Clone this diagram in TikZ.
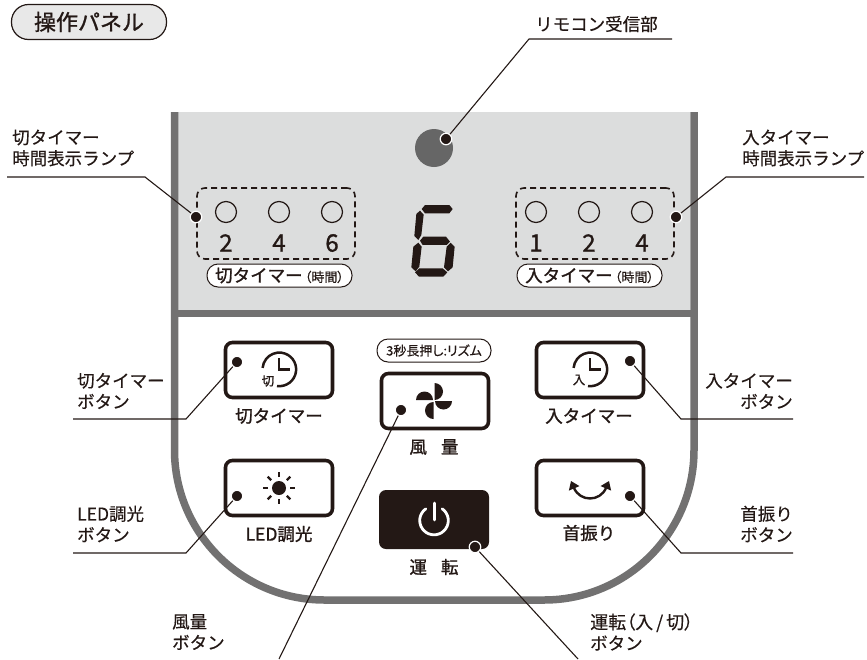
\documentclass[tikz,border=0pt]{standalone}
\usepackage{fontspec}
\setmainfont[FakeBold=0.3]{Noto Sans CJK JP}
\newfontfamily\heavyfont[FakeBold=1.2]{Noto Sans CJK JP}
\newfontfamily\tightfont[RawFeature=+palt,FakeBold=0.3]{Noto Sans CJK JP}
\usetikzlibrary{arrows.meta}
\definecolor{ink}{HTML}{231815}
\definecolor{frame}{HTML}{727171}
\definecolor{lamp}{HTML}{DCDDDD}
\definecolor{sensor}{HTML}{666666}
\newcommand{\lblfont}{\fontsize{17.5}{21}\selectfont}
\newcommand{\btnfont}{\heavyfont\fontsize{17.5}{20}\selectfont}
\begin{document}
\begin{tikzpicture}[x=1pt,y=-1pt,text=ink,
	button node/.style={rectangle,draw=ink,line width=3.6pt,rounded corners=7pt,minimum width=107pt,minimum height=55pt,inner sep=0pt},
	dot node/.style={circle,fill=ink,draw=white,line width=1.2pt,minimum size=11.5pt,inner sep=0pt},
	led node/.style={circle,draw=ink,line width=1.2pt,minimum size=21pt,inner sep=0pt,node distance=53pt},
	digit node/.style={inner sep=0pt,font=\heavyfont\fontsize{24}{24}\selectfont,node distance=31pt},
	caption node/.style={rectangle,draw=ink,fill=white,line width=1pt,rounded corners=11pt,minimum width=145pt,minimum height=23pt,inner sep=0pt},
	dash box/.style={rectangle,draw=ink,dashed,dash pattern=on 6pt off 4pt,line width=1.6pt,rounded corners=8pt,minimum width=158pt,minimum height=71pt},
	label node/.style={inner sep=0pt,anchor=west,align=left,font=\lblfont},
	right label/.style={inner sep=0pt,anchor=east,align=right,font=\lblfont},
	btn label/.style={inner sep=0pt,font=\btnfont},
	leader/.style={draw=ink,line width=1.1pt},
	panel line/.style={draw=frame,line width=7.5pt}]
	\useasboundingbox (0,0) rectangle (867,659);
	
	% panel
	\fill[lamp] (178,112) rectangle (690,310);
	\draw[panel line,rounded corners=150pt] (174.5,112) -- (174.5,600) -- (694,600) -- (694,112);
	\draw[panel line] (171,313.5) -- (698,313.5);
	
	% title
	\node[rectangle,draw=ink,fill=black!9,line width=1.2pt,rounded corners=17pt,minimum width=155pt,minimum height=35pt,inner sep=0pt,font=\heavyfont\fontsize{22}{22}\selectfont] (title) at (89,22) {操作パネル};
	
	% sensor
	\node[circle,fill=sensor,minimum size=38pt,inner sep=0pt] (sensor) at (434,148) {};
	
	% off timer lamps
	\node[dash box] (offbox) at (276,223.5) {};
	\node[led node] (off1) at (226,212) {};
	\node[led node] (off2) [right of=off1] {};
	\node[led node] (off3) [right of=off2] {};
	\node[digit node] (offnum1) [below of=off1] {2};
	\node[digit node] (offnum2) [below of=off2] {4};
	\node[digit node] (offnum3) [below of=off3] {6};
	\node[caption node] (offcap) at (279.5,275.5) {{\heavyfont\fontsize{17.5}{17.5}\selectfont 切タイマー}{\tightfont\fontsize{13}{13}\selectfont\,（時間）}};
	
	% on timer lamps
	\node[dash box] (onbox) at (595,223.5) {};
	\node[led node] (on1) at (536,212) {};
	\node[led node] (on2) [right of=on1] {};
	\node[led node] (on3) [right of=on2] {};
	\node[digit node] (onnum1) [below of=on1] {1};
	\node[digit node] (onnum2) [below of=on2] {2};
	\node[digit node] (onnum3) [below of=on3] {4};
	\node[caption node] (oncap) at (589.5,275.5) {{\heavyfont\fontsize{17.5}{17.5}\selectfont 入タイマー}{\tightfont\fontsize{13}{13}\selectfont\,（時間）}};
	
	% display
	\begin{scope}[shift={(370,190)},x=0.3333pt,y=-0.3333pt]
		\fill[ink] (155,57) -- (165,45) -- (238,45) -- (248,57) -- (238,70) -- (165,70) -- cycle;
		\fill[ink] (150,62) -- (161,74) -- (154,135) -- (145,150) -- (133,138) -- (139,72) -- cycle;
		\fill[ink] (150,152) -- (160,140) -- (228,140) -- (240,155) -- (230,165) -- (158,165) -- cycle;
		\fill[ink] (145,158) -- (155,170) -- (148,230) -- (137,244) -- (124,232) -- (130,170) -- cycle;
		\fill[ink] (242,158) -- (254,170) -- (248,232) -- (234,244) -- (222,232) -- (230,170) -- cycle;
		\fill[ink] (135,247) -- (148,235) -- (218,235) -- (232,247) -- (220,260) -- (147,260) -- cycle;
	\end{scope}
	
	% buttons
	\node[button node] (offbtn) at (279,370) {};
	\node[button node] (ledbtn) at (279,488) {};
	\node[button node] (fanbtn) at (435,401) {};
	\node[button node] (onbtn) at (590,370) {};
	\node[button node] (swingbtn) at (590,488) {};
	\node[rectangle,fill=ink,rounded corners=7pt,minimum width=110pt,minimum height=59pt,inner sep=0pt] (powerbtn) at (434,519.5) {};
	\node[rectangle,draw=ink,fill=white,line width=1pt,rounded corners=11pt,minimum width=114pt,minimum height=23pt,inner sep=0pt,font=\tightfont\fontsize{13}{13}\selectfont] (hold) at (434,350.5) {3秒長押し:リズム};
	
	\node[btn label] (offtxt) at (279,416) {切タイマー};
	\node[btn label] (ontxt) at (589,416) {入タイマー};
	\node[btn label] (ledtxt) at (279,534) {LED調光};
	\node[btn label] (swingtxt) at (589,533) {首振り};
	\node[btn label] (fantxt) at (434,447) {風\hspace{14pt}量};
	\node[btn label] (powertxt) at (434,567) {運\hspace{14pt}転};
	
	% clock icons
	\draw[ink,line width=2.5pt] (277,386) arc[start angle=-98,end angle=175,radius=16.8pt];
	\draw[ink,line width=2.5pt] (279,358) -- (279,369.5) -- (290,369.5);
	\node[inner sep=0pt,font=\heavyfont\fontsize{12.5}{12.5}\selectfont] (offmark) at (268,381) {切};
	\draw[ink,line width=2.5pt] (588,386) arc[start angle=-98,end angle=175,radius=16.8pt];
	\draw[ink,line width=2.5pt] (590,358) -- (590,369.5) -- (601,369.5);
	\node[inner sep=0pt,font=\heavyfont\fontsize{12.5}{12.5}\selectfont] (onmark) at (579,380) {入};
	
	% sun icon
	\fill[ink] (279,488) circle[radius=7pt];
	\foreach \a in {0,45,...,315}
		\draw[ink,line width=2.2pt] (279,488) ++(\a:11pt) -- ++(\a:5pt);
	
	% fan icon
	\fill[ink] (434.5,400) -- (434.5,383) arc[start angle=90,end angle=-90,radius=8.5pt] -- cycle;
	\fill[ink] (435,401) -- (452,401) arc[start angle=0,end angle=-180,radius=8.5pt] -- cycle;
	\fill[ink] (433.5,402) -- (433.5,419) arc[start angle=-90,end angle=-270,radius=8.5pt] -- cycle;
	\fill[ink] (433,400) -- (416,400) arc[start angle=180,end angle=0,radius=8.5pt] -- cycle;
	
	% swing icon
	\draw[ink,line width=2.4pt,{Triangle[width=11pt,length=8pt]}-{Triangle[width=11pt,length=8pt]}] (571,481) .. controls (580,502) and (600,502) .. (609,481);
	
	% power icon
	\draw[white,line width=2.8pt,line cap=round] (442.2,508.8) arc[start angle=55,end angle=-235,radius=14.3pt];
	\draw[white,line width=2.8pt,line cap=round] (434.5,503) -- (434.5,520);
	
	% marker dots
	\node[dot node] (sensordot) at (446,139) {};
	\node[dot node] (offdot) at (196,217) {};
	\node[dot node] (ondot) at (676,217) {};
	\node[dot node] (offbtndot) at (237,362) {};
	\node[dot node] (ledbtndot) at (237,496) {};
	\node[dot node] (fanbtndot) at (401,410) {};
	\node[dot node] (onbtndot) at (630,361) {};
	\node[dot node] (swingbtndot) at (630,496) {};
	\node[dot node] (powerdot) at (475,547) {};
	
	% leader ends
	\coordinate (sensorend) at (672,39);
	\coordinate (offend) at (7,177);
	\coordinate (onend) at (864,177);
	\coordinate (offbtnend) at (73,419);
	\coordinate (ledbtnend) at (73,553);
	\coordinate (fanbtnend) at (279,659);
	\coordinate (onbtnend) at (793,419);
	\coordinate (swingbtnend) at (793,553);
	\coordinate (powerend) at (578,659);
	
	\draw[leader] (sensordot) -- (529,39) -- (sensorend);
	\draw[leader] (offdot) -- (145,177) -- (offend);
	\draw[leader] (ondot) -- (726,177) -- (onend);
	\draw[leader] (offbtndot) -- (186,419) -- (offbtnend);
	\draw[leader] (ledbtndot) -- (186,553) -- (ledbtnend);
	\draw[leader] (fanbtndot) -- (fanbtnend);
	\draw[leader] (onbtndot) -- (681,419) -- (onbtnend);
	\draw[leader] (swingbtndot) -- (681,553) -- (swingbtnend);
	\draw[leader] (powerdot) -- (powerend);
	
	% labels
	\node[label node] (sensorlbl) at (535,24) {リモコン受信部};
	\node[label node] (offlbl) at (12,148) {切タイマー\\時間表示ランプ};
	\node[label node] (onlbl) at (742,148) {入タイマー\\時間表示ランプ};
	\node[label node] (offbtnlbl) at (77,391) {切タイマー\\ボタン};
	\node[label node] (ledbtnlbl) at (77,524) {LED調光\\ボタン};
	\node[label node] (fanbtnlbl) at (172,632) {風量\\ボタン};
	\node[label node] (powerlbl) at (590,632) {{\tightfont\fontsize{18}{21}\selectfont 運転（入\,/\,切）}\\ボタン};
	\node[right label] (onbtnlbl) at (793,391) {入タイマー\\ボタン};
	\node[right label] (swingbtnlbl) at (793,524) {首振り\\ボタン};
\end{tikzpicture}
\end{document}
